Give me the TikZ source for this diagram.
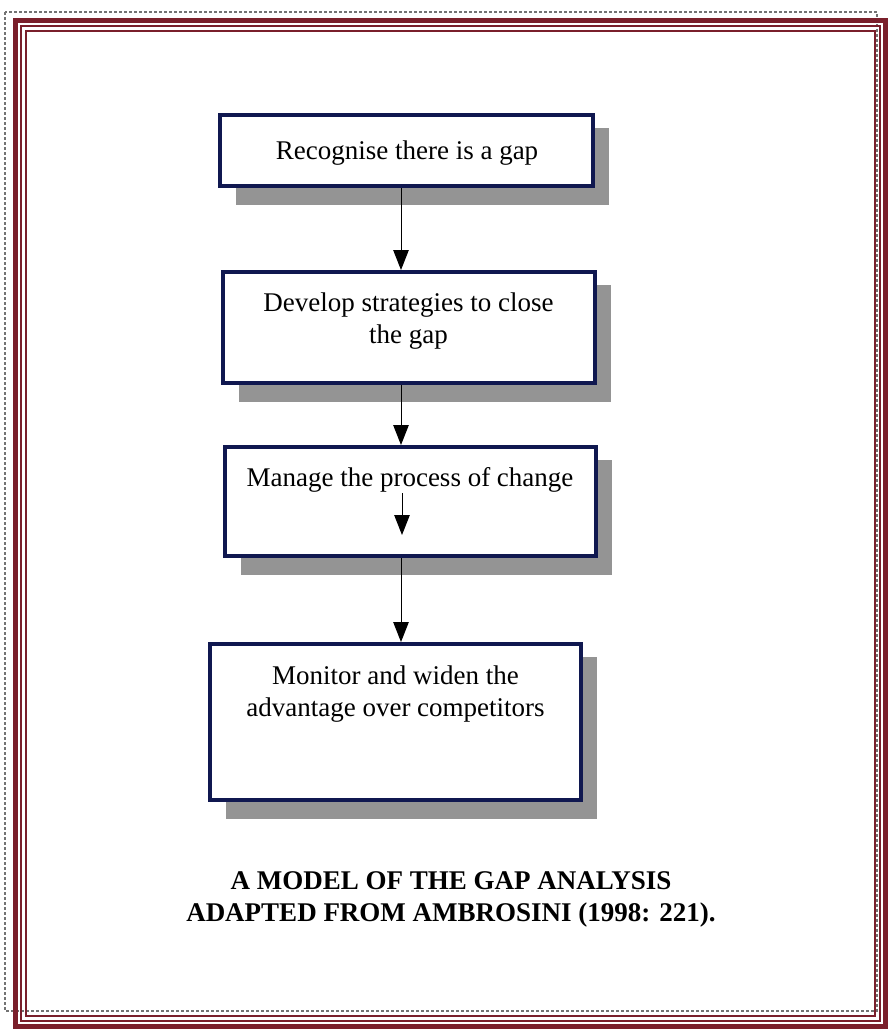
\documentclass[tikz,border=0pt]{standalone}
\usepackage{fontspec}
\setmainfont{Liberation Serif}
\usepackage{xcolor}
\usetikzlibrary{arrows.meta,positioning,calc,backgrounds}
\definecolor{frame}{HTML}{7A1F2B}
\definecolor{navy}{HTML}{101850}

\begin{document}
\begin{tikzpicture}[x=0.4pt, y=-0.4pt, >={Triangle[length=8pt,width=6.2pt]},
  font=\fontsize{10.8}{13}\selectfont, line width=0.6pt,
  stagebox/.style={draw=navy, line width=1.6pt, fill=white, minimum width=148.6pt, inner sep=0pt},
  shade/.style={fill=black!42},
  txt/.style={align=center, inner sep=1pt}]
\useasboundingbox (0,0) rectangle (891,1029);
% page frame
\draw[black!55, dash pattern=on 1pt off 1pt, line width=0.8pt] (5,12) rectangle (877,1011);
\draw[frame, line width=2pt] (15,20) rectangle (885,1026);
\draw[frame, line width=0.8pt] (21,26) rectangle (880,1021);
\draw[frame, line width=0.8pt] (26,31) rectangle (875,1016);
% stages
\node[stagebox, minimum width=149.2pt, minimum height=28.4pt] (s1) at (406.5,150.5) {};
\node[stagebox, minimum height=44.4pt] (s2) at (409,327.5) {};
\node[stagebox, minimum height=43.6pt] (s3) at (410.5,501.5) {};
\node[stagebox, minimum height=62.4pt] (s4) at (395.5,722) {};
% shadows behind the stages
\begin{pgfonlayer}{background}
\foreach \s in {s1,s2,s3,s4}
  \fill[shade] ($(\s.south west)+(18,17)$) rectangle ($(\s.north east)+(14,15)$);
\end{pgfonlayer}
\node[txt] (t1) at (407,153) {Recognise there is a gap};
\node[txt] (t2) at (408.5,321) {Develop strategies to close\\the gap};
\node[txt] (t3) at (410,480) {Manage the process of change};
\node[txt] (t4) at (395.5,694) {Monitor and widen the\\advantage over competitors};
% caption
\node[txt, font=\fontsize{10.8}{12.8}\selectfont\bfseries] (cap) at (451,899) {A MODEL OF THE GAP ANALYSIS\\ADAPTED FROM AMBROSINI (1998: 221).};
% connectors
\coordinate (ax) at (401,0);
\coordinate (m1) at (402,493);
\coordinate (m2) at (402,535);
\draw[->] (s1.south -| ax) -- (s2.north -| ax);
\draw[->] (s2.south -| ax) -- (s3.north -| ax);
\draw[->] (m1) -- (m2);
\draw[->] (s3.south -| ax) -- (s4.north -| ax);
\end{tikzpicture}
\end{document}
